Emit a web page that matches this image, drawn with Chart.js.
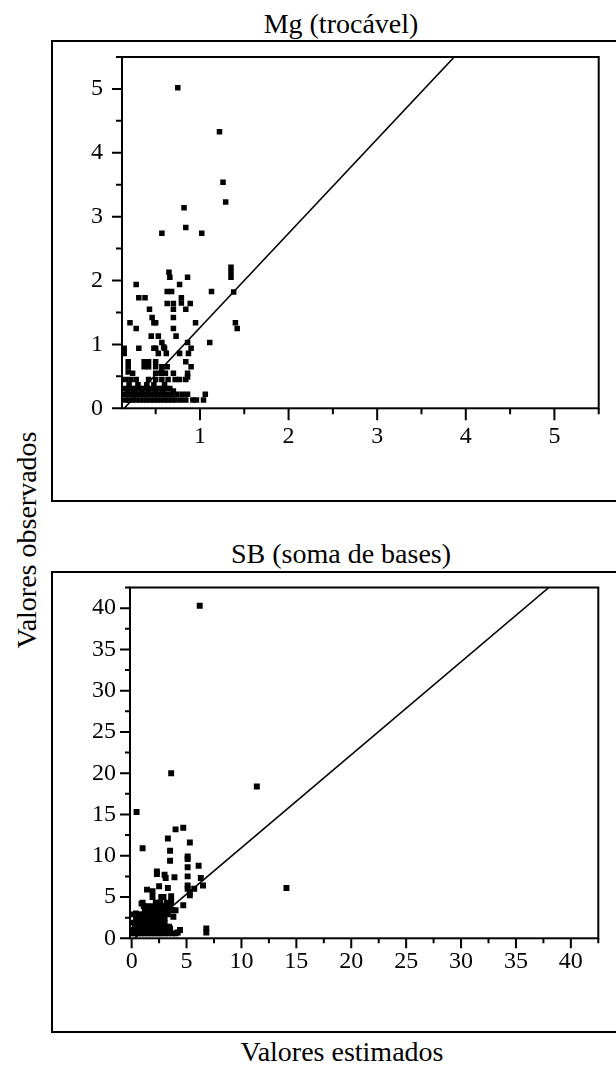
<!DOCTYPE html>
<html>
<head>
<meta charset="utf-8">
<script src="https://cdn.jsdelivr.net/npm/chart.js@4.4.0/dist/chart.umd.min.js"></script>
<style>
html,body{margin:0;padding:0;background:#fff;}
body{width:616px;height:1068px;position:relative;overflow:hidden;font-family:"Liberation Serif","Times New Roman",serif;color:#000;}
.frame{position:absolute;left:51px;width:565px;border-left:2px solid #000;border-top:2px solid #000;border-bottom:2px solid #000;box-sizing:border-box;}
canvas{position:absolute;}
.txt{position:absolute;white-space:nowrap;font-size:28px;line-height:1;transform:translate(-50%,-50%);}
</style>
</head>
<body>
<div class="frame" style="top:40px;height:462px;"></div>
<div class="frame" style="top:571px;height:462px;"></div>
<div class="txt" style="left:341px;top:24px;">Mg (trocável)</div>
<div class="txt" style="left:341px;top:554px;">SB (soma de bases)</div>
<div class="txt" style="left:27px;top:540px;transform:translate(-50%,-50%) rotate(-90deg);">Valores observados</div>
<div class="txt" style="left:342px;top:1052px;">Valores estimados</div>
<canvas id="c1" width="564" height="460" style="left:52px;top:41px;"></canvas>
<canvas id="c2" width="564" height="460" style="left:52px;top:572px;"></canvas>
<script>
// ---------- Mg (trocável) ----------
const mgEstimado = [
0.75,1.22,1.26,1.29,0.82,0.84,0.57,1.02,1.35,1.35,1.35,0.65,0.66,0.86,0.28,0.77,
0.31,0.38,0.63,0.68,1.13,1.38,0.79,0.79,0.63,0.70,0.89,0.84,0.70,0.43,0.46,0.70,
0.48,0.50,0.21,0.28,0.95,1.40,1.42,0.70,0.45,0.53,0.73,1.11,0.86,0.57,0.59,
0.145,0.145,0.31,0.48,0.50,0.60,0.90,0.53,0.77,0.87,0.62,
0.19,0.19,0.19,0.37,0.42,0.37,0.42,0.50,0.50,0.57,0.57,0.63,0.84,0.90,
0.24,0.50,0.56,0.61,0.70,0.86,0.86,
0.16,0.22,0.28,0.42,0.50,0.57,0.64,0.72,0.77,0.84,
0.20,0.30,0.40,0.48,0.60,
0.16,0.20,0.24,0.28,0.32,0.36,0.40,0.45,0.49,0.53,0.57,0.62,0.66,
0.18,0.26,0.34,0.42,0.50,0.58,0.70,
0.16,0.20,0.24,0.28,0.32,0.36,0.40,0.44,0.48,0.52,0.56,0.60,0.64,0.68,0.74,0.80,0.86,1.06,
0.16,0.20,0.24,0.28,0.32,0.36,0.40,0.44,0.48,0.52,0.56,0.60,0.64,0.68,0.72,0.78,0.84,0.92,0.96,1.04
];
const mgObservado = [
5.02,4.33,3.54,3.23,3.14,2.83,2.74,2.74,2.21,2.13,2.05,2.13,2.05,2.05,1.94,1.94,
1.73,1.73,1.83,1.83,1.83,1.82,1.73,1.65,1.64,1.64,1.64,1.55,1.55,1.55,1.42,1.42,
1.34,1.34,1.34,1.25,1.34,1.34,1.25,1.25,1.13,1.13,1.13,1.03,1.03,1.03,0.96,
0.94,0.86,0.94,0.94,0.94,0.94,0.94,0.86,0.86,0.86,0.86,
0.73,0.65,0.57,0.73,0.73,0.65,0.65,0.73,0.65,0.65,0.57,0.65,0.73,0.65,
0.55,0.55,0.55,0.55,0.55,0.55,0.49,
0.45,0.45,0.45,0.45,0.45,0.45,0.45,0.45,0.45,0.45,
0.37,0.37,0.37,0.37,0.37,
0.31,0.31,0.31,0.31,0.31,0.31,0.31,0.31,0.31,0.31,0.31,0.31,0.31,
0.27,0.27,0.27,0.27,0.27,0.27,0.27,
0.22,0.22,0.22,0.22,0.22,0.22,0.22,0.22,0.22,0.22,0.22,0.22,0.22,0.22,0.22,0.22,0.22,0.22,
0.13,0.13,0.13,0.13,0.13,0.13,0.13,0.13,0.13,0.13,0.13,0.13,0.13,0.13,0.13,0.13,0.13,0.13,0.13,0.13
];
const mgLineEst = [0.145, 3.87];
const mgLineObs = [0, 5.5];
const mgXMajor = [1, 2, 3, 4, 5];
const mgXMinor = [0.5, 1.5, 2.5, 3.5, 4.5, 5.5];
const mgYMajor = [0, 1, 2, 3, 4, 5];
const mgYMinor = [0.5, 1.5, 2.5, 3.5, 4.5, 5.5];

// ---------- SB (soma de bases) ----------
const sbEstimado = [
6.2,3.6,11.4,0.45,1.0,4.0,4.7,3.3,3.5,3.5,5.3,5.1,5.1,5.1,5.1,6.1,2.3,2.3,3.0,3.1,3.9,3.3,2.5,1.4,1.9,1.9,2.7,2.9,3.6,3.6,
5.1,5.1,5.3,5.7,6.3,6.5,5.3,4.7,3.8,4.0,14.1,6.8,6.8,0.4,0.9,1.1,4.4,4.2,3.5,
0.0,0.3,0.6,0.9,1.2,1.5,1.8,2.1,2.4,2.7,3.0,3.3,3.7,4.0,
0.2,0.5,0.8,1.1,1.4,1.7,2.0,2.3,2.6,2.9,3.2,3.5,
0.3,0.7,1.0,1.3,1.6,1.9,2.2,2.5,2.8,3.1,3.4,
0.2,0.6,0.9,1.2,1.5,1.8,2.1,2.4,2.7,3.0,
0.4,0.8,1.1,1.5,1.9,2.2,2.6,3.0,
0.1,0.7,1.0,1.4,1.8,2.1,2.5,2.9,3.3,
1.2,1.6,2.0,2.4,2.8,3.2,3.7,
1.4,1.9,2.3,2.7,3.1,3.5,
1.0,2.2,2.6,3.2
];
const sbObservado = [
40.3,20.0,18.4,15.3,10.9,13.2,13.4,12.1,10.6,9.4,11.6,9.9,9.6,8.6,7.5,8.8,8.1,7.8,7.7,7.3,7.4,6.1,6.3,5.9,5.7,5.0,5.0,5.0,5.1,4.5,
6.4,6.0,5.2,6.0,7.3,6.4,5.6,4.0,2.6,3.4,6.1,1.2,0.7,3.0,4.2,3.9,1.0,0.7,1.2,
0.6,0.6,0.6,0.6,0.6,0.6,0.6,0.6,0.6,0.6,0.6,0.6,0.6,0.6,
1.0,1.0,1.0,1.0,1.0,1.0,1.0,1.0,1.0,1.0,1.0,1.0,
1.4,1.4,1.4,1.4,1.4,1.4,1.4,1.4,1.4,1.4,1.4,
1.9,1.9,1.9,1.9,1.9,1.9,1.9,1.9,1.9,1.9,
2.4,2.4,2.4,2.4,2.4,2.4,2.4,2.4,
2.9,2.9,2.9,2.9,2.9,2.9,2.9,2.9,2.9,
3.4,3.4,3.4,3.4,3.4,3.4,3.4,
3.9,3.9,3.9,3.9,3.9,3.9,
4.3,4.3,4.3,4.3
];
const sbLineEst = [0.3, 38.0];
const sbLineObs = [0.05, 42.5];
const sbXMajor = [0, 5, 10, 15, 20, 25, 30, 35, 40];
const sbXMinor = [2.5, 7.5, 12.5, 17.5, 22.5, 27.5, 32.5, 37.5, 42.5];
const sbYMajor = [0, 5, 10, 15, 20, 25, 30, 35, 40];
const sbYMinor = [2.5, 7.5, 12.5, 17.5, 22.5, 27.5, 32.5, 37.5, 42.5];

Chart.defaults.font.family = '"Liberation Serif", "Times New Roman", serif';
Chart.defaults.font.size = 24;
Chart.defaults.color = '#000';

const tickMarks = {
  id: 'tickMarks',
  afterDraw(chart, args, o) {
    const ctx = chart.ctx, a = chart.chartArea;
    ctx.save();
    ctx.strokeStyle = '#000';
    ctx.lineWidth = 2;
    ctx.strokeRect(a.left, a.top, a.right - a.left, a.bottom - a.top);
    const xs = chart.scales.x, ys = chart.scales.y;
    ctx.beginPath();
    xs.ticks.forEach(t => {
      const p = xs.getPixelForValue(t.value);
      const L = o.xMajor.includes(t.value) ? o.xMajorLen : o.xMinorLen;
      ctx.moveTo(p, a.bottom); ctx.lineTo(p, a.bottom + L);
    });
    ys.ticks.forEach(t => {
      const p = ys.getPixelForValue(t.value);
      const L = o.yMajor.includes(t.value) ? o.yMajorLen : o.yMinorLen;
      ctx.moveTo(a.left, p); ctx.lineTo(a.left - L, p);
    });
    ctx.stroke();
    ctx.restore();
  }
};

function pts(xs, ys) { return xs.map((x, i) => ({x: x, y: ys[i]})); }

function makeChart(id, c) {
  const allX = c.xMajor.concat(c.xMinor).sort((p, q) => p - q);
  const allY = c.yMajor.concat(c.yMinor).sort((p, q) => p - q);
  return new Chart(document.getElementById(id), {
    type: 'scatter',
    data: {
      datasets: [
        {data: pts(c.est, c.obs), pointStyle: 'rect', pointRadius: c.r, pointHoverRadius: c.r,
         backgroundColor: '#000', borderWidth: 0, showLine: false},
        {data: pts(c.lineX, c.lineY), showLine: true, pointRadius: 0, borderColor: '#000',
         borderWidth: 1.6, backgroundColor: '#000'}
      ]
    },
    options: {
      responsive: false, animation: false, devicePixelRatio: 1,
      layout: {padding: {top: c.padTop, right: c.padRight, left: 0, bottom: 0}},
      plugins: {legend: {display: false}, tooltip: {enabled: false},
        tickMarks: {xMajor: c.xMajor, yMajor: c.yMajor, xMajorLen: c.xMajorLen, xMinorLen: c.xMinorLen,
                    yMajorLen: c.yMajorLen, yMinorLen: c.yMinorLen}},
      scales: {
        x: {type: 'linear', min: c.xMin, max: c.xMax,
            grid: {display: false, drawTicks: false}, border: {display: false},
            afterBuildTicks: s => { s.ticks = allX.map(v => ({value: v})); },
            afterFit: s => { s.height = c.xAxisH; s.paddingLeft = 0; s.paddingRight = 0; },
            ticks: {padding: c.xPad, maxRotation: 0, autoSkip: false,
                    callback: v => c.xMajor.includes(v) ? String(v) : ''}},
        y: {type: 'linear', min: c.yMin, max: c.yMax,
            grid: {display: false, drawTicks: false}, border: {display: false},
            afterBuildTicks: s => { s.ticks = allY.map(v => ({value: v})); },
            afterFit: s => { s.width = c.yAxisW; s.paddingTop = 0; s.paddingBottom = 0; },
            ticks: {padding: c.yPad, autoSkip: false,
                    callback: v => c.yMajor.includes(v) ? String(v) : ''}}
      }
    },
    plugins: [tickMarks]
  });
}

makeChart('c1', {
  est: mgEstimado, obs: mgObservado, lineX: mgLineEst, lineY: mgLineObs,
  xMajor: mgXMajor, xMinor: mgXMinor, yMajor: mgYMajor, yMinor: mgYMinor,
  xMin: 0.12, xMax: 5.5, yMin: 0, yMax: 5.5, r: 3.9,
  padTop: 16, padRight: 17.3, xAxisH: 92.7, yAxisW: 70, xPad: 14, yPad: 19,
  xMajorLen: 12, xMinorLen: 6, yMajorLen: 10, yMinorLen: 6
});
makeChart('c2', {
  est: sbEstimado, obs: sbObservado, lineX: sbLineEst, lineY: sbLineObs,
  xMajor: sbXMajor, xMinor: sbXMinor, yMajor: sbYMajor, yMinor: sbYMinor,
  xMin: -0.15, xMax: 42.5, yMin: 0, yMax: 42.5, r: 4.2,
  padTop: 15.5, padRight: 17.7, xAxisH: 93.7, yAxisW: 78, xPad: 9, yPad: 14,
  xMajorLen: 10, xMinorLen: 5, yMajorLen: 10, yMinorLen: 5
});
</script>
</body>
</html>
